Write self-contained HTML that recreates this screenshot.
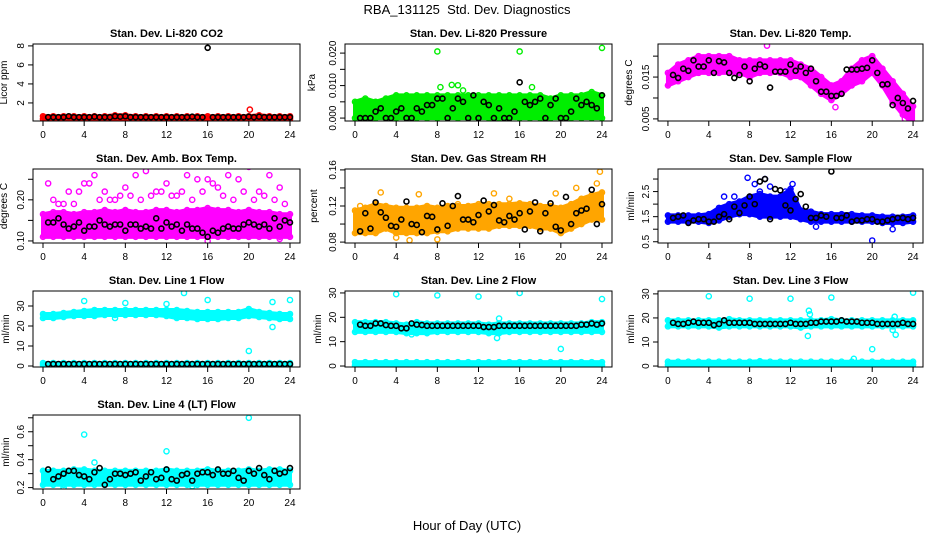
<!DOCTYPE html>
<html><head><meta charset="utf-8"><style>
body{margin:0;background:#fff;}
svg{display:block;font-family:"Liberation Sans",sans-serif;}
</style></head><body>
<svg id="chart" width="936" height="540" viewBox="0 0 936 540">
<rect width="936" height="540" fill="#fff"/>
<text x="467" y="14" text-anchor="middle" font-size="13">RBA_131125&#160; Std. Dev. Diagnostics</text>
<text x="467" y="530" text-anchor="middle" font-size="13">Hour of Day (UTC)</text>
</svg>
<script>
const HOURS=[0,1,2,3,4,5,6,7,8,9,10,11,12,13,14,15,16,17,18,19,20,21,22,23,24];
const BLACK_HOURS=[0.5,1,1.5,2,2.5,3,3.5,4,4.5,5,5.5,6,6.5,7,7.5,8,8.5,9,9.5,10,10.5,11,11.5,12,12.5,13,13.5,14,14.5,15,15.5,16,16.5,17,17.5,18,18.5,19,19.5,20,20.5,21,21.5,22,22.5,23,23.5,24];
const X_TICKS=[0,4,8,12,16,20,24];

// Panel 1 CO2
const co2Lo=[0.3,0.3,0.3,0.3,0.3,0.3,0.3,0.3,0.3,0.3,0.3,0.3,0.3,0.3,0.3,0.3,0.3,0.3,0.3,0.3,0.3,0.3,0.3,0.3,0.3];
const co2Hi=[0.6,0.6,0.6,0.6,0.6,0.6,0.6,0.7,0.7,0.6,0.6,0.6,0.6,0.6,0.6,0.6,0.6,0.6,0.6,0.6,0.6,0.7,0.6,0.6,0.6];
const co2Black=[0.5,0.5,0.5,0.5,0.6,0.5,0.5,0.5,0.5,0.55,0.5,0.5,0.5,0.6,0.55,0.6,0.5,0.5,0.5,0.5,0.5,0.5,0.5,0.5,0.5,0.5,0.5,0.5,0.55,0.5,0.5,7.8,0.5,0.5,0.5,0.5,0.5,0.5,0.5,0.55,0.5,0.55,0.5,0.5,0.5,0.5,0.5,0.5];
const co2OutX=[20.1];const co2OutY=[1.3];
const co2Ticks=[2,4,6,8];const co2Labels=["2","4","6","8"];

// Panel 2 Pressure
const presLo=[0,0,0,0,0,0,0,0,0,0,0,0,0,0,0,0,0,0,0,0,0,0,0,0,0];
const presHi=[0.005,0.006,0.005,0.006,0.007,0.007,0.007,0.007,0.007,0.007,0.007,0.007,0.007,0.007,0.007,0.007,0.007,0.007,0.007,0.006,0.007,0.007,0.007,0.008,0.007];
const presBlack=[0,0,0,0.002,0.003,0,0,0.002,0.003,0,0,0.003,0.002,0.004,0.004,0.006,0.006,0,0.003,0.006,0.005,0,0.007,0,0.005,0.004,0,0.003,0,0,0.002,0.011,0.005,0.004,0.005,0.006,0,0.004,0.006,0,0,0.002,0.006,0.004,0.005,0.004,0.003,0.007];
const presOutX=[8,16,24,8.3,9.4,10,17.2,10.5];const presOutY=[0.0205,0.0205,0.0216,0.0095,0.0102,0.0101,0.0095,0.0085];
const presTicks=[0,0.005,0.01,0.015,0.02];const presLabels=["0.000","","0.010","","0.020"];

// Panel 3 Li temp
const ltLo=[0.013,0.014,0.015,0.016,0.016,0.016,0.016,0.016,0.015,0.016,0.016,0.016,0.015,0.015,0.013,0.011,0.0095,0.011,0.013,0.014,0.016,0.013,0.009,0.006,0.004];
const ltHi=[0.016,0.018,0.019,0.020,0.020,0.020,0.020,0.019,0.019,0.019,0.019,0.019,0.019,0.018,0.017,0.015,0.013,0.014,0.017,0.019,0.020,0.017,0.014,0.011,0.008];
const ltBlack=[0.0155,0.0148,0.017,0.0165,0.019,0.0175,0.0175,0.019,0.016,0.0188,0.0185,0.016,0.0148,0.0155,0.0175,0.014,0.017,0.018,0.0175,0.0125,0.0163,0.0163,0.0163,0.018,0.0165,0.0175,0.016,0.017,0.014,0.0115,0.0115,0.0105,0.0105,0.011,0.0168,0.0168,0.0168,0.017,0.0172,0.019,0.016,0.0132,0.0133,0.0083,0.010,0.0088,0.0075,0.0093];
const ltOutX=[9.7,16.4,23.2];const ltOutY=[0.0225,0.0078,0.005];
const ltTicks=[0.005,0.01,0.015,0.02];const ltLabels=["0.005","","0.015",""];

// Panel 4 Amb box temp
const abLo=[0.11,0.11,0.11,0.11,0.11,0.11,0.11,0.11,0.11,0.11,0.11,0.11,0.11,0.11,0.11,0.11,0.11,0.11,0.11,0.11,0.11,0.11,0.11,0.11,0.11];
const abHi=[0.165,0.17,0.17,0.165,0.17,0.17,0.175,0.17,0.175,0.17,0.17,0.175,0.175,0.17,0.175,0.175,0.18,0.175,0.175,0.17,0.175,0.17,0.17,0.165,0.165];
const abBlack=[0.145,0.145,0.155,0.14,0.13,0.135,0.145,0.125,0.135,0.135,0.15,0.14,0.135,0.14,0.14,0.125,0.14,0.14,0.13,0.135,0.13,0.155,0.13,0.145,0.135,0.14,0.125,0.14,0.13,0.13,0.12,0.11,0.125,0.12,0.13,0.135,0.13,0.13,0.14,0.145,0.14,0.135,0.14,0.13,0.155,0.135,0.15,0.145];
const abOutX=[0.5,2.5,3.5,4,4.5,5,6,7.5,8,9,10,11,12,13,14,15,16,16.5,17,18,19,20,21,22,23,1.5,6.5,9.5,11.5,13.5,17.5,19.5,22.5,3,8.5,16,20,23,0.3,1,2,5.5,7,10.5,12.5,14.5,15.5,18.5,20.5,21.5,23.5];
const abOutY=[0.24,0.22,0.22,0.24,0.24,0.26,0.22,0.21,0.23,0.26,0.27,0.22,0.24,0.21,0.26,0.25,0.25,0.24,0.23,0.26,0.25,0.28,0.22,0.26,0.23,0.19,0.2,0.2,0.22,0.22,0.21,0.22,0.2,0.19,0.21,0.1,0.11,0.105,0.12,0.2,0.19,0.2,0.2,0.21,0.21,0.2,0.22,0.2,0.2,0.21,0.19];
const abTicks=[0.1,0.15,0.2,0.25];const abLabels=["0.10","","0.20",""];

// Panel 5 Gas stream RH
const rhLo=[0.09,0.09,0.09,0.095,0.09,0.09,0.09,0.09,0.092,0.092,0.095,0.095,0.095,0.095,0.098,0.098,0.098,0.098,0.095,0.095,0.09,0.095,0.1,0.105,0.105];
const rhHi=[0.115,0.118,0.122,0.12,0.118,0.118,0.118,0.12,0.118,0.12,0.12,0.12,0.122,0.122,0.122,0.122,0.123,0.122,0.12,0.12,0.118,0.122,0.128,0.132,0.135];
const rhBlack=[0.092,0.112,0.095,0.124,0.113,0.107,0.098,0.097,0.105,0.125,0.1,0.099,0.091,0.109,0.108,0.094,0.123,0.098,0.12,0.131,0.105,0.105,0.102,0.11,0.126,0.114,0.121,0.104,0.102,0.109,0.105,0.112,0.094,0.114,0.124,0.092,0.112,0.123,0.097,0.093,0.13,0.1,0.112,0.115,0.117,0.138,0.1,0.122];
const rhOutX=[2.5,6.2,5.3,10,13.5,15,19.5,21.5,23.8,23.5,0.5,8,4];const rhOutY=[0.135,0.133,0.082,0.122,0.134,0.128,0.134,0.14,0.158,0.145,0.12,0.083,0.085];
const rhTicks=[0.08,0.1,0.12,0.14,0.16];const rhLabels=["0.08","","0.12","","0.16"];

// Panel 6 Sample flow
const sfLo=[1.3,1.3,1.3,1.3,1.25,1.35,1.5,1.6,1.6,1.5,1.5,1.5,1.5,1.4,1.3,1.3,1.3,1.3,1.3,1.3,1.3,1.25,1.25,1.25,1.3];
const sfHi=[1.55,1.55,1.55,1.55,1.6,1.85,2.0,2.1,2.3,2.4,2.3,2.3,2.6,1.75,1.7,1.6,1.6,1.6,1.6,1.55,1.55,1.5,1.5,1.5,1.55];
const sfBlack=[1.45,1.5,1.55,1.25,1.35,1.4,1.4,1.3,1.3,1.5,1.6,1.4,1.9,1.65,1.95,2.3,2.0,2.9,3.0,1.4,2.6,2.55,1.95,1.75,2.2,2.4,1.9,1.45,1.45,1.55,1.5,3.3,1.45,1.45,1.55,1.3,1.35,1.35,1.4,1.4,1.3,1.3,1.35,1.4,1.45,1.45,1.4,1.45];
const sfOutX=[7.8,9.5,10,8.5,5.5,6.5,11.5,20,22,14.5,13,12.2,7,9];const sfOutY=[3.05,3.0,2.7,2.8,2.3,2.3,2.5,0.55,1.0,1.1,1.6,2.8,2.0,2.5];
const sfTicks=[0.5,1,1.5,2,2.5,3];const sfLabels=["0.5","","1.5","","2.5",""];

// Panel 7 Line 1 flow
const l1Lo=[24,24,24.5,25,25,25,25.5,25.5,25.5,25.5,25.5,25.5,25,24,24,23.5,23.5,23.5,24,24,25,24.5,24,23.5,23.5];
const l1Hi=[26,26,26.5,27,27.5,28,28,28,28,28,28,28,28,28,27.5,27,27,27,27,27,28.5,27,26.5,26,26];
const l1BaseLo=[0.5,0.5,0.5,0.5,0.5,0.5,0.5,0.5,0.5,0.5,0.5,0.5,0.5,0.5,0.5,0.5,0.5,0.5,0.5,0.5,0.5,0.5,0.5,0.5,0.5];
const l1BaseHi=[1.5,1.5,1.5,1.5,1.5,1.5,1.5,1.5,1.5,1.5,1.5,1.5,1.5,1.5,1.5,1.5,1.5,1.5,1.5,1.5,1.5,1.5,1.5,1.5,1.5];
const l1Black=[1,1,1,1,1,1,1,1,1,1,1,1,1,1,1,1,1,1,1,1,1,1,1,1,1,1,1,1,1,1,1,1,1,1,1,1,1,1,1,1,1,1,1,1,1,1,1,1];
const l1OutX=[4,8,12,13.7,16,22.3,24,22.3,20,7];const l1OutY=[32.5,31.5,31,36.5,33,32,33,19.5,7.5,24];
const l1Ticks=[0,10,20,30];const l1Labels=["0","10","20","30"];

// Panel 8 Line 2 flow
const l2Lo=[14,14,14,14,14,13.5,13.5,13.5,14,14,14,14,14,13.5,13.5,14,14,14,14,14,14,14,14,14,14];
const l2Hi=[18,18,18,18,17.5,17,18,17.5,17.5,17.5,17.5,17.5,17.5,17,17.5,17.5,17.5,17.5,17.5,17.5,17.5,17.5,17.5,18,18];
const l2BaseLo=[0.3,0.3,0.3,0.3,0.3,0.3,0.3,0.3,0.3,0.3,0.3,0.3,0.3,0.3,0.3,0.3,0.3,0.3,0.3,0.3,0.3,0.3,0.3,0.3,0.3];
const l2BaseHi=[1.6,1.6,1.6,1.6,1.6,1.6,1.6,1.6,1.6,1.6,1.6,1.6,1.6,1.6,1.6,1.6,1.6,1.6,1.6,1.6,1.6,1.6,1.6,1.6,1.6];
const l2Black=[17,16.5,16.5,17.5,17.5,16.8,16.5,16.5,15.5,15.5,17.5,17,16.8,16.5,16.5,16.5,16.5,16.5,16.5,16.5,16.5,16.5,16.5,16.5,16,16,16,16.5,16.5,16.5,16.5,16.5,16.5,16.5,16.5,16.5,16.5,16.5,16.5,16.5,16.5,16.5,16.5,17,17,17.5,17,17.5];
const l2OutX=[4,8,12,16,24,14,13.8,20,5.5];const l2OutY=[29.5,29,28.5,30,27.5,19.5,11.5,7,13];
const l2Ticks=[0,10,20,30];const l2Labels=["0","10","20","30"];

// Panel 9 Line 3 flow
const l3Lo=[16.5,16.5,16.5,16.5,16.5,16,16.5,16.5,16.5,16.5,16.5,16.5,16.5,16,16.5,16.5,16.5,16.5,16.5,16.5,16.5,16.5,16.5,16.5,16.5];
const l3Hi=[19,19,19,19,19,19,19.5,19,19,19,19,19,19,19,19,19,19.5,19,19,19,19,19,19,19,19];
const l3BaseLo=[0.5,0.5,0.5,0.5,0.5,0.5,0.5,0.5,0.5,0.5,0.3,0.5,0.5,0.5,0.5,0.5,0.5,0.5,0.5,0.5,0.5,0.5,0.5,0.5,0.5];
const l3BaseHi=[1.8,1.8,1.8,1.8,1.8,1.8,1.8,1.8,1.8,2,1.8,1.8,1.8,1.8,1.8,1.8,1.8,1.8,1.8,1.8,1.8,1.8,1.8,1.8,1.8];
const l3Black=[18,17.5,17.5,18,18.5,18,18,18,17,17.5,19,18,18,18,18,18,17.5,17.5,17.5,17.5,17.5,17.5,17.5,18,17.5,17.5,17.5,18,18,18.5,18.5,18.5,18.5,19,18.5,18.5,18.5,18,18,18,17.5,17.5,17.5,17.5,17.5,18,17.5,17.5];
const l3OutX=[4,8,12,16,24,13.8,13.9,13.7,20,22.2,22.3,18.2,22];const l3OutY=[29,28,28,28.5,30.5,23,21.5,12.5,7,20.5,13,3,15];
const l3Ticks=[0,10,20,30];const l3Labels=["0","10","20","30"];

// Panel 10 Line 4 flow
const l4Lo=[0.22,0.22,0.22,0.22,0.22,0.22,0.22,0.22,0.22,0.22,0.22,0.22,0.22,0.22,0.22,0.22,0.22,0.22,0.22,0.22,0.22,0.22,0.22,0.22,0.22];
const l4Hi=[0.32,0.32,0.32,0.33,0.33,0.32,0.32,0.32,0.32,0.32,0.32,0.32,0.33,0.32,0.32,0.32,0.33,0.32,0.32,0.32,0.33,0.32,0.33,0.33,0.32];
const l4Black=[0.33,0.26,0.28,0.3,0.32,0.32,0.29,0.28,0.26,0.31,0.34,0.22,0.26,0.3,0.3,0.29,0.3,0.31,0.25,0.28,0.31,0.26,0.27,0.33,0.26,0.25,0.29,0.3,0.25,0.3,0.31,0.31,0.29,0.33,0.3,0.3,0.32,0.27,0.25,0.32,0.3,0.34,0.29,0.26,0.32,0.3,0.31,0.34];
const l4OutX=[4,20,12,5,2,14.5];const l4OutY=[0.58,0.7,0.46,0.38,0.2,0.21];
const l4Ticks=[0.2,0.3,0.4,0.5,0.6,0.7];const l4Labels=["0.2","","0.4","","0.6",""];

const NS="http://www.w3.org/2000/svg";
const svg=document.getElementById('chart');
function mk(tag,attrs,parent){const e=document.createElementNS(NS,tag);for(const k in attrs)e.setAttribute(k,attrs[k]);(parent||svg).appendChild(e);return e;}

const COLS=[{l:33,r:300},{l:345,r:612},{l:658,r:923}];
const ROWS=[{t:44,b:121},{t:169,b:243},{t:291,b:367},{t:415,b:489}];

function panel(key,title,ylab,col,row,ymin,ymax,color,bands,blackVals,outX,outY,ticks,labels,tickLabelOffset){
  const C=COLS[col],R=ROWS[row];
  const g=mk('g',{});
  
  
  const x0=C.l+(C.r-C.l)*0.0375, x1=C.r-(C.r-C.l)*0.0375;
  const xs=h=>x0+(x1-x0)*h/24;
  const ys=v=>R.b-(v-ymin)/(ymax-ymin)*(R.b-R.t);
  const clip='clip-'+key;
  const cp=mk('clipPath',{id:clip},g);mk('rect',{x:C.l,y:R.t,width:C.r-C.l,height:R.b-R.t},cp);
  const pg=mk('g',{'clip-path':'url(#'+clip+')'},g);
  bands.forEach((bd,bi)=>{
    let pts=HOURS.map((h,i)=>xs(h)+','+ys(bd.hi[i]));
    pts=pts.concat(HOURS.map((h,i)=>xs(h)+','+ys(bd.lo[i])).reverse());
    const p=mk('polygon',{points:pts.join(' '),fill:color,stroke:color,'stroke-width':4,'stroke-linejoin':'round'},pg);
    
    
    HOURS.forEach((h,i)=>{
      [bd.lo[i],bd.hi[i]].forEach(v=>{
        const c=mk('circle',{cx:xs(h),cy:ys(v),r:2.6,fill:'none',stroke:color,'stroke-width':1.4},pg);
        
        
      });
    });
  });
  outX.forEach((h,i)=>{
    const c=mk('circle',{cx:xs(h),cy:ys(outY[i]),r:2.6,fill:'none',stroke:color,'stroke-width':1.4},pg);
    
    
  });
  BLACK_HOURS.forEach((h,i)=>{
    const c=mk('circle',{cx:xs(h),cy:ys(blackVals[i]),r:2.5,fill:'none',stroke:'#000','stroke-width':1.6},pg);
    
    
  });
  const box=mk('rect',{x:C.l,y:R.t,width:C.r-C.l,height:R.b-R.t,fill:'none',stroke:'#000','stroke-width':1},g);
  
  
  const xa=mk('g',{},g);
  
  
  mk('line',{x1:xs(0),x2:xs(24),y1:R.b,y2:R.b,stroke:'#000'},xa);
  X_TICKS.forEach(t=>{
    mk('line',{x1:xs(t),x2:xs(t),y1:R.b,y2:R.b+5,stroke:'#000'},xa);
    const tx=mk('text',{x:xs(t),y:R.b+17,'text-anchor':'middle','font-size':10},xa);tx.textContent=t;
  });
  const ya=mk('g',{},g);
  
  
  mk('line',{x1:C.l,x2:C.l,y1:ys(ticks[0]),y2:ys(ticks[ticks.length-1]),stroke:'#000'},ya);
  ticks.forEach((t,i)=>{
    mk('line',{x1:C.l-5,x2:C.l,y1:ys(t),y2:ys(t),stroke:'#000'},ya);
    if(labels[i]){const lx=C.l-9,ly=ys(t);
      const tx=mk('text',{x:lx,y:ly,'text-anchor':'middle','font-size':10,transform:'rotate(-90 '+lx+' '+ly+')'},ya);tx.textContent=labels[i];}
  });
  const yl=C.l-(tickLabelOffset||24), ym=(R.t+R.b)/2;
  const yt=mk('text',{x:yl,y:ym,'text-anchor':'middle','font-size':10,transform:'rotate(-90 '+yl+' '+ym+')'},g);
  yt.textContent=ylab;
  
  
  const tt=mk('text',{x:(C.l+C.r)/2,y:R.t-7,'text-anchor':'middle','font-size':11,'font-weight':'bold'},g);
  tt.textContent=title;
  
  
}

panel('co2','Stan. Dev. Li-820 CO2','Licor ppm',0,0,0.1,8.2,'#ff0000',[{lo:co2Lo,hi:co2Hi}],co2Black,co2OutX,co2OutY,co2Ticks,co2Labels,26);
panel('pressure','Stan. Dev. Li-820 Pressure','kPa',1,0,-0.0009,0.0228,'#00ee00',[{lo:presLo,hi:presHi}],presBlack,presOutX,presOutY,presTicks,presLabels,30);
panel('li-temp','Stan. Dev. Li-820 Temp.','degrees C',2,0,0.0045,0.0229,'#ff00ff',[{lo:ltLo,hi:ltHi}],ltBlack,ltOutX,ltOutY,ltTicks,ltLabels,26);
panel('amb-box','Stan. Dev. Amb. Box Temp.','degrees C',0,1,0.095,0.275,'#ff00ff',[{lo:abLo,hi:abHi}],abBlack,abOutX,abOutY,abTicks,abLabels,26);
panel('gas-rh','Stan. Dev. Gas Stream RH','percent',1,1,0.079,0.161,'#ffa500',[{lo:rhLo,hi:rhHi}],rhBlack,rhOutX,rhOutY,rhTicks,rhLabels,28);
panel('sample-flow','Stan. Dev. Sample Flow','ml/min',2,1,0.45,3.4,'#0000ff',[{lo:sfLo,hi:sfHi}],sfBlack,sfOutX,sfOutY,sfTicks,sfLabels,24);
panel('line1','Stan. Dev. Line 1 Flow','ml/min',0,2,-0.5,37.5,'#00ffff',[{lo:l1Lo,hi:l1Hi},{lo:l1BaseLo,hi:l1BaseHi}],l1Black,l1OutX,l1OutY,l1Ticks,l1Labels,24);
panel('line2','Stan. Dev. Line 2 Flow','ml/min',1,2,-0.4,30.8,'#00ffff',[{lo:l2Lo,hi:l2Hi},{lo:l2BaseLo,hi:l2BaseHi}],l2Black,l2OutX,l2OutY,l2Ticks,l2Labels,24);
panel('line3','Stan. Dev. Line 3 Flow','ml/min',2,2,-0.4,31.2,'#00ffff',[{lo:l3Lo,hi:l3Hi},{lo:l3BaseLo,hi:l3BaseHi}],l3Black,l3OutX,l3OutY,l3Ticks,l3Labels,24);
panel('line4','Stan. Dev. Line 4 (LT) Flow','ml/min',0,3,0.19,0.72,'#00ffff',[{lo:l4Lo,hi:l4Hi}],l4Black,l4OutX,l4OutY,l4Ticks,l4Labels,24);
</script>
</body></html>
